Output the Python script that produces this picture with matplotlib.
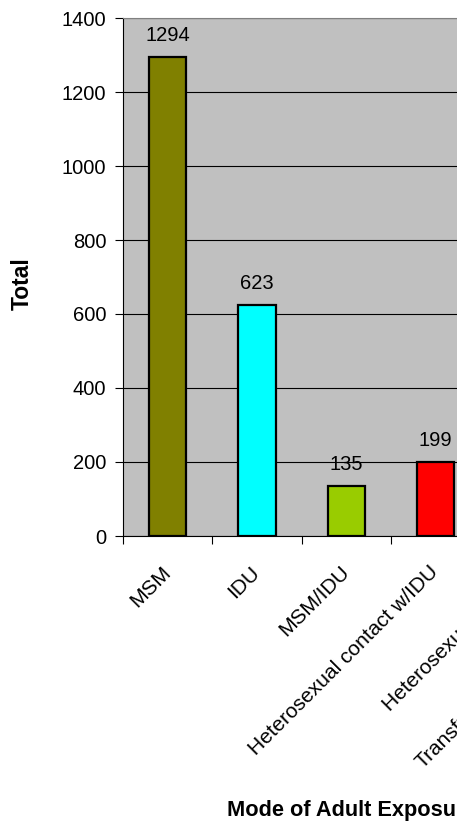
import matplotlib
matplotlib.use("Agg")
import matplotlib.pyplot as plt

plt.rcParams['font.family'] = ['Liberation Sans', 'DejaVu Sans']

# data (the chart is cut off at the right edge, last two values are guesses)
categories = ["MSM", "IDU", "MSM/IDU", "Heterosexual contact w/IDU",
              "Heterosexual contact", "Transfusion/Hemophilia/Other"]
totals = [1294, 623, 135, 199, 150, 10]
colors = ["#808000", "#00FFFF", "#99CC00", "#FF0000", "#FFFF00", "#993366"]
yticks = [0, 200, 400, 600, 800, 1000, 1200, 1400]

fig = plt.figure(figsize=(4.57, 8.25), dpi=100)
# axes runs past the right edge on purpose (reference is cropped)
ax = fig.add_axes([123/457, 1 - 536/825, 536/457, 518/825])
ax.set_facecolor("#C0C0C0")

x = list(range(len(categories)))
ax.bar(x, totals, width=0.42, color=colors, edgecolor="black", linewidth=1.6, zorder=3)

for xi, v in zip(x, totals):
    ax.annotate(str(v), (xi, v), xytext=(0, 9), textcoords="offset points",
                ha="center", va="bottom", fontsize=14.5, zorder=4)

ax.set_xlim(-0.5, len(categories) - 0.5)
ax.set_ylim(0, 1400)
ax.set_yticks(yticks)
ax.yaxis.grid(True, color="black", linewidth=0.8, zorder=1)
ax.tick_params(axis="y", labelsize=14.5, length=6, width=0.8, pad=6)

# category labels between boundary ticks
ax.set_xticks(x)
ax.set_xticklabels(categories, rotation=45, ha="right", va="center",
                   rotation_mode="anchor", fontsize=15)
ax.tick_params(axis="x", which="major", length=0, pad=24)
ax.set_xticks([i - 0.5 for i in range(len(categories) + 1)], minor=True)
ax.tick_params(axis="x", which="minor", length=6, width=0.8)

for s in ["left", "bottom"]:
    ax.spines[s].set_color("black")
    ax.spines[s].set_linewidth(0.8)
ax.spines["top"].set_color("#808080")
ax.spines["right"].set_visible(False)

ax.set_ylabel("Total", fontsize=16.5, fontweight="bold")
ax.yaxis.set_label_coords(-0.166, 0.488)
ax.set_xlabel("Mode of Adult Exposure", fontsize=15.7, fontweight="bold", ha="left")
ax.xaxis.set_label_coords((227 - 123) / 536, -0.51)

fig.savefig("out.png", dpi=100)
